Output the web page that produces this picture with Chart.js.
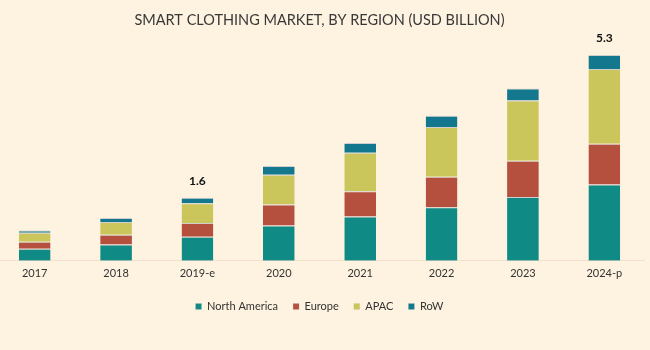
<!DOCTYPE html>
<html>
<head>
<meta charset="utf-8">
<script src="https://cdn.jsdelivr.net/npm/chart.js@4.4.1/dist/chart.umd.min.js"></script>
<style>
  html, body { margin: 0; padding: 0; background: #fef3e0; overflow: hidden; }
  #wrap { position: relative; width: 651px; height: 350px; margin-left: -6px; }
</style>
</head>
<body>
<div id="wrap"><canvas id="regionChart"></canvas></div>
<script>
const years = ['2017', '2018', '2019-e', '2020', '2021', '2022', '2023', '2024-p']

const northAmerica = [0.31, 0.42, 0.62, 0.91, 1.14, 1.38, 1.64, 1.96]
const europe = [0.18, 0.25, 0.35, 0.54, 0.65, 0.78, 0.93, 1.05]
const apac = [0.23, 0.33, 0.51, 0.76, 0.99, 1.28, 1.55, 1.92]
const row = [0.06, 0.10, 0.14, 0.23, 0.25, 0.29, 0.31, 0.36]

// only two bars carry a total label in the original
const totalLabels = ['', '', '1.6', '', '', '', '', '5.3']

Chart.defaults.font.family = 'Lato'

const seg = (label, data, color) => ({
    label: label,
    data: data,
    backgroundColor: color,
    borderColor: 'rgba(190,190,200,0.7)',
    borderWidth: { top: 1, left: 0, right: 0, bottom: 0 },
    borderSkipped: false,
})

const totalsPlugin = {
    id: 'totals',
    afterDatasetsDraw(chart) {
        const ctx = chart.ctx
        const last = chart.getDatasetMeta(chart.data.datasets.length - 1)
        ctx.save()
        ctx.font = 'bold 12px Lato'
        ctx.fillStyle = '#111'
        ctx.textAlign = 'center'
        ctx.textBaseline = 'bottom'
        totalLabels.forEach((txt, i) => {
            if (!txt) return
            const bar = last.data[i]
            ctx.fillText(txt, bar.x, bar.y - 11)
        })
        ctx.restore()
    }
}

new Chart(document.getElementById('regionChart'), {
    type: 'bar',
    data: {
        labels: years,
        datasets: [
            seg('North America', northAmerica, '#108a84'),
            seg('Europe', europe, '#b5503f'),
            seg('APAC', apac, '#cbc65b'),
            seg('RoW', row, '#13788e'),
        ]
    },
    options: {
        responsive: true,
        maintainAspectRatio: false,
        animation: false,
        layout: {
            padding: { left: 0, right: 0, top: 0, bottom: 28 }
        },
        datasets: {
            bar: {
                categoryPercentage: 1,
                barPercentage: 0.39,
            }
        },
        plugins: {
            title: {
                display: true,
                text: 'SMART CLOTHING MARKET, BY REGION (USD BILLION)',
                color: '#383838',
                font: { size: 14.5, weight: 'normal' },
                padding: { top: 12, bottom: 0 },
            },
            legend: {
                position: 'bottom',
                labels: {
                    boxWidth: 6,
                    boxHeight: 6,
                    color: '#333',
                    font: { size: 11 },
                    padding: 15,
                }
            },
            tooltip: { enabled: false },
        },
        scales: {
            x: {
                stacked: true,
                grid: { display: false, drawTicks: false },
                border: { display: true, color: '#f3dfcb', width: 1 },
                ticks: {
                    color: '#333',
                    font: { size: 11 },
                    padding: 6,
                },
            },
            y: {
                stacked: true,
                display: false,
                min: 0,
                max: 5.95,
            }
        }
    },
    plugins: [totalsPlugin]
})
</script>
</body>
</html>
